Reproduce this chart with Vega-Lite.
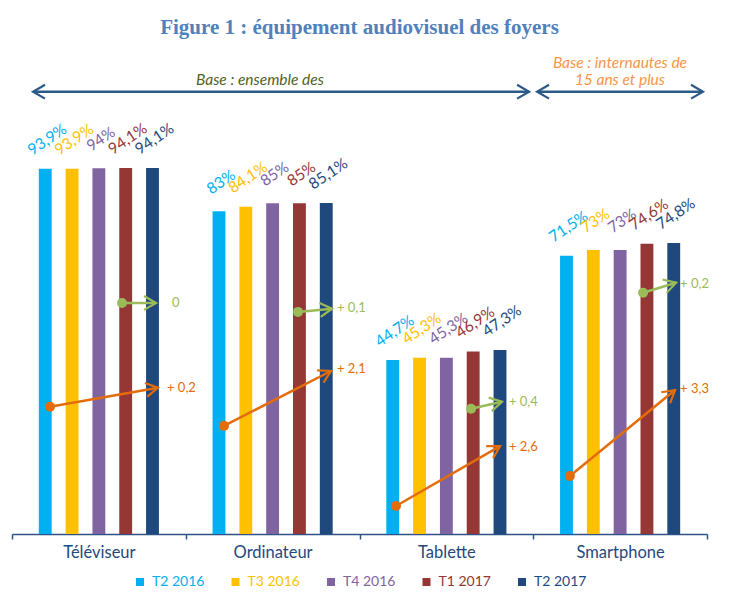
{
  "$schema": "https://vega.github.io/schema/vega-lite/v6.json",
  "autosize": {"type": "none"},
  "width": 695,
  "height": 389,
  "padding": {"left": 12, "top": 145, "right": 35, "bottom": 70},
  "background": "white",
  "config": {"view": {"stroke": null}, "font": "Lato"},
  "title": {
    "text": "Figure 1 : équipement audiovisuel des foyers",
    "font": "Liberation Serif",
    "fontSize": 21,
    "fontWeight": "bold",
    "color": "#4F81BD",
    "anchor": "middle",
    "frame": "group",
    "baseline": "alphabetic",
    "offset": 1
  },
  "datasets": {
    "bars": [
      {"device": "Téléviseur", "period": "T2 2016", "value": 93.9},
      {"device": "Téléviseur", "period": "T3 2016", "value": 93.9},
      {"device": "Téléviseur", "period": "T4 2016", "value": 94},
      {"device": "Téléviseur", "period": "T1 2017", "value": 94.1},
      {"device": "Téléviseur", "period": "T2 2017", "value": 94.1},
      {"device": "Ordinateur", "period": "T2 2016", "value": 83},
      {"device": "Ordinateur", "period": "T3 2016", "value": 84.1},
      {"device": "Ordinateur", "period": "T4 2016", "value": 85},
      {"device": "Ordinateur", "period": "T1 2017", "value": 85},
      {"device": "Ordinateur", "period": "T2 2017", "value": 85.1},
      {"device": "Tablette", "period": "T2 2016", "value": 44.7},
      {"device": "Tablette", "period": "T3 2016", "value": 45.3},
      {"device": "Tablette", "period": "T4 2016", "value": 45.3},
      {"device": "Tablette", "period": "T1 2017", "value": 46.9},
      {"device": "Tablette", "period": "T2 2017", "value": 47.3},
      {"device": "Smartphone", "period": "T2 2016", "value": 71.5},
      {"device": "Smartphone", "period": "T3 2016", "value": 73},
      {"device": "Smartphone", "period": "T4 2016", "value": 73},
      {"device": "Smartphone", "period": "T1 2017", "value": 74.6},
      {"device": "Smartphone", "period": "T2 2017", "value": 74.8}
    ],
    "arrows": [
      {"kind": "an", "x1": 0.219, "y1": 32.7, "x2": 0.840, "y2": 37.6},
      {"kind": "tri", "x1": 0.633, "y1": 59.4, "x2": 0.829, "y2": 59.4},
      {"kind": "an", "x1": 1.220, "y1": 27.8, "x2": 1.836, "y2": 41.9},
      {"kind": "tri", "x1": 1.646, "y1": 57.1, "x2": 1.842, "y2": 57.9},
      {"kind": "an", "x1": 2.210, "y1": 7.2, "x2": 2.809, "y2": 22.6},
      {"kind": "tri", "x1": 2.642, "y1": 32.2, "x2": 2.820, "y2": 34.0},
      {"kind": "an", "x1": 3.211, "y1": 14.9, "x2": 3.816, "y2": 37.0},
      {"kind": "tri", "x1": 3.632, "y1": 62.0, "x2": 3.822, "y2": 64.6},
      {"kind": "base", "x1": 0.121, "y1": 113.7, "x2": 2.976, "y2": 113.7},
      {"kind": "base", "x1": 3.022, "y1": 113.7, "x2": 3.977, "y2": 113.7}
    ],
    "notes": [
      {"kind": "an", "u": 0.892, "v": 37.6, "text": "+ 0,2"},
      {"kind": "tri", "u": 0.921, "v": 59.4, "text": "0"},
      {"kind": "an", "u": 1.870, "v": 42.4, "text": "+ 2,1"},
      {"kind": "tri", "u": 1.870, "v": 58.1, "text": "+ 0,1"},
      {"kind": "an", "u": 2.860, "v": 22.4, "text": "+ 2,6"},
      {"kind": "tri", "u": 2.860, "v": 34.0, "text": "+ 0,4"},
      {"kind": "an", "u": 3.845, "v": 37.3, "text": "+ 3,3"},
      {"kind": "tri", "u": 3.845, "v": 64.3, "text": "+ 0,2"}
    ],
    "bases": [
      {"kind": "all", "u": 1.427, "v": 116.8, "text": "Base : ensemble des"},
      {"kind": "net", "u": 3.499, "v": 121.0, "text": "Base : internautes de"},
      {"kind": "net", "u": 3.499, "v": 116.8, "text": "15 ans et plus"}
    ]
  },
  "resolve": {"scale": {"x": "independent"}, "axis": {"x": "independent"}},
  "layer": [
    {
      "data": {"name": "bars"},
      "mark": {"type": "bar"},
      "encoding": {
        "x": {
          "field": "device", "type": "nominal",
          "sort": ["Téléviseur", "Ordinateur", "Tablette", "Smartphone"],
          "scale": {"paddingInner": 0, "paddingOuter": 0},
          "axis": {
            "title": null, "labelAngle": 0, "labelFont": "Lato", "labelFontSize": 16.5,
            "labelColor": "#1F497D", "domainColor": "#2C5383", "domainWidth": 1.5,
            "tickColor": "#2C5383", "tickWidth": 1.5, "tickSize": 5, "tickBand": "extent",
            "labelPadding": 5
          }
        },
        "xOffset": {
          "field": "period", "type": "nominal",
          "sort": ["T2 2016", "T3 2016", "T4 2016", "T1 2017", "T2 2017"],
          "scale": {"paddingInner": 0.52, "paddingOuter": 1.235}
        },
        "y": {"field": "value", "type": "quantitative", "scale": {"domain": [0, 100], "nice": false}, "axis": null},
        "color": {
          "field": "period", "type": "nominal",
          "sort": ["T2 2016", "T3 2016", "T4 2016", "T1 2017", "T2 2017"],
          "scale": {
            "domain": ["T2 2016", "T3 2016", "T4 2016", "T1 2017", "T2 2017"],
            "range": ["#00B0F0", "#FFC000", "#8064A2", "#953735", "#1F497D"]
          },
          "legend": {
            "title": null, "orient": "none", "direction": "horizontal",
            "legendX": 121, "legendY": 430, "columnPadding": 23.5,
            "symbolType": "square", "symbolSize": 64, "symbolStrokeWidth": 0,
            "labelFont": "Lato", "labelFontSize": 14, "labelOffset": 5,
            "encode": {"labels": {"update": {"fill": {"scale": "color", "field": "value"}}}}
          }
        }
      }
    },
    {
      "data": {"name": "bars"},
      "transform": [{"calculate": "replace(format(datum.value, '~g'), '.', ',') + '%'", "as": "label"}],
      "mark": {"type": "text", "angle": -34, "dx": 18, "dy": -23, "align": "center", "baseline": "middle", "font": "Lato", "fontSize": 15.5},
      "encoding": {
        "x": {"field": "device", "type": "nominal", "sort": ["Téléviseur", "Ordinateur", "Tablette", "Smartphone"], "scale": {"paddingInner": 0, "paddingOuter": 0}, "axis": null},
        "xOffset": {"field": "period", "type": "nominal", "sort": ["T2 2016", "T3 2016", "T4 2016", "T1 2017", "T2 2017"], "scale": {"paddingInner": 0.52, "paddingOuter": 1.235}},
        "y": {"field": "value", "type": "quantitative", "scale": {"domain": [0, 100], "nice": false}, "axis": null},
        "text": {"field": "label"},
        "color": {"field": "period", "type": "nominal", "sort": ["T2 2016", "T3 2016", "T4 2016", "T1 2017", "T2 2017"]}
      }
    },
    {
      "data": {"name": "arrows"},
      "mark": {"type": "rule", "strokeWidth": 2.5},
      "encoding": {
        "x": {"field": "x1", "type": "quantitative", "scale": {"domain": [0, 4], "nice": false, "zero": false}, "axis": null},
        "x2": {"field": "x2"},
        "y": {"field": "y1", "type": "quantitative", "scale": {"domain": [0, 100], "nice": false}, "axis": null},
        "y2": {"field": "y2"},
        "stroke": {"field": "kind", "type": "nominal", "scale": {"domain": ["an", "tri", "base"], "range": ["#E46C0A", "#9BBB59", "#2B5A8A"]}, "legend": null}
      }
    },
    {
      "data": {"name": "arrows"},
      "transform": [{"filter": "datum.kind !== 'base'"}],
      "mark": {"type": "point", "shape": "circle", "filled": true, "size": 100, "opacity": 1},
      "encoding": {
        "x": {"field": "x1", "type": "quantitative", "scale": {"domain": [0, 4], "nice": false, "zero": false}, "axis": null},
        "y": {"field": "y1", "type": "quantitative", "scale": {"domain": [0, 100], "nice": false}, "axis": null},
        "fill": {"field": "kind", "type": "nominal", "scale": {"domain": ["an", "tri", "all", "net"], "range": ["#E46C0A", "#9BBB59", "#4F6228", "#F79646"]}, "legend": null}
      }
    },
    {
      "data": {"name": "arrows"},
      "transform": [{"calculate": "atan2(-(datum.y2 - datum.y1) * 3.887, (datum.x2 - datum.x1) * 173.75) * 180 / PI", "as": "ang"}],
      "mark": {"type": "point", "shape": "M-1,-0.58L0,0L-1,0.58", "filled": false, "size": 576, "strokeWidth": 2.2, "opacity": 1},
      "encoding": {
        "x": {"field": "x2", "type": "quantitative", "scale": {"domain": [0, 4], "nice": false, "zero": false}, "axis": null},
        "y": {"field": "y2", "type": "quantitative", "scale": {"domain": [0, 100], "nice": false}, "axis": null},
        "angle": {"field": "ang", "type": "quantitative", "scale": null},
        "stroke": {"field": "kind", "type": "nominal", "scale": {"domain": ["an", "tri", "base"], "range": ["#E46C0A", "#9BBB59", "#2B5A8A"]}, "legend": null}
      }
    },
    {
      "data": {"name": "arrows"},
      "transform": [{"filter": "datum.kind === 'base'"}],
      "mark": {"type": "point", "shape": "M-1,-0.58L0,0L-1,0.58", "filled": false, "size": 576, "strokeWidth": 2.2, "opacity": 1, "angle": 180},
      "encoding": {
        "x": {"field": "x1", "type": "quantitative", "scale": {"domain": [0, 4], "nice": false, "zero": false}, "axis": null},
        "y": {"field": "y1", "type": "quantitative", "scale": {"domain": [0, 100], "nice": false}, "axis": null},
        "stroke": {"field": "kind", "type": "nominal", "scale": {"domain": ["an", "tri", "base"], "range": ["#E46C0A", "#9BBB59", "#2B5A8A"]}, "legend": null}
      }
    },
    {
      "data": {"name": "notes"},
      "mark": {"type": "text", "align": "left", "baseline": "middle", "font": "Lato", "fontSize": 13},
      "encoding": {
        "x": {"field": "u", "type": "quantitative", "scale": {"domain": [0, 4], "nice": false, "zero": false}, "axis": null},
        "y": {"field": "v", "type": "quantitative", "scale": {"domain": [0, 100], "nice": false}, "axis": null},
        "text": {"field": "text"},
        "fill": {"field": "kind", "type": "nominal", "scale": {"domain": ["an", "tri", "all", "net"], "range": ["#E46C0A", "#9BBB59", "#4F6228", "#F79646"]}, "legend": null}
      }
    },
    {
      "data": {"name": "bases"},
      "mark": {"type": "text", "align": "center", "baseline": "middle", "font": "Lato", "fontSize": 15.5, "fontStyle": "italic"},
      "encoding": {
        "x": {"field": "u", "type": "quantitative", "scale": {"domain": [0, 4], "nice": false, "zero": false}, "axis": null},
        "y": {"field": "v", "type": "quantitative", "scale": {"domain": [0, 100], "nice": false}, "axis": null},
        "text": {"field": "text"},
        "fill": {"field": "kind", "type": "nominal", "scale": {"domain": ["an", "tri", "all", "net"], "range": ["#E46C0A", "#9BBB59", "#4F6228", "#F79646"]}, "legend": null}
      }
    }
  ]
}
